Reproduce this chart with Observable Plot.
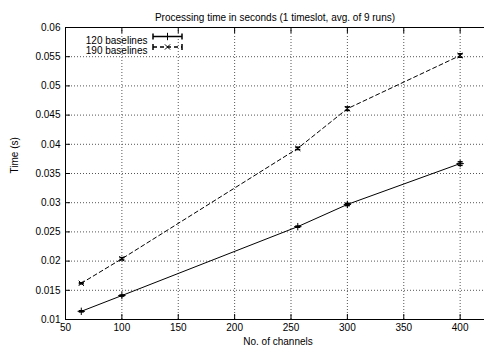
<!DOCTYPE html>
<html>
<head>
<meta charset="utf-8">
<script src="https://cdn.jsdelivr.net/npm/d3@7"></script>
<script src="https://cdn.jsdelivr.net/npm/@observablehq/plot@0.6"></script>
<style>
  html, body { margin: 0; padding: 0; background: #fff; overflow: hidden; }
</style>
</head>
<body>
<div id="chart"></div>
<script>
// Processing time per number of channels, mean of 9 runs with spread
const channels = [64, 100, 256, 300, 400];
const time120 = [0.0114, 0.0141, 0.0259, 0.0297, 0.0367];
const err120 = [0.0001, 0.0001, 0.0001, 0.0002, 0.0003];
const time190 = [0.0162, 0.0204, 0.0393, 0.0461, 0.0552];
const err190 = [0.0001, 0.0002, 0.0002, 0.0003, 0.0003];
const seriesNames = ["120 baselines", "190 baselines"];
const xTicks = [50, 100, 150, 200, 250, 300, 350, 400];
const yTicks = [0.01, 0.015, 0.02, 0.025, 0.03, 0.035, 0.04, 0.045, 0.05, 0.055, 0.06];
const titleText = "Processing time in seconds (1 timeslot, avg. of 9 runs)";
const xLabel = "No. of channels";
const yLabel = "Time (s)";

const rows120 = channels.map((c, i) => ({ch: c, t: time120[i], e: err120[i]}));
const rows190 = channels.map((c, i) => ({ch: c, t: time190[i], e: err190[i]}));

// horizontal cap at the end of an error bar
const capSymbol = {draw(ctx) { ctx.moveTo(-2.5, 0); ctx.lineTo(2.5, 0); }};
// key sample: a horizontal stroke, and its end caps
const keyLine = {draw(ctx) { ctx.moveTo(-14.5, 0); ctx.lineTo(14.5, 0); }};
const keyCaps = {draw(ctx) {
  ctx.moveTo(-14.5, -3); ctx.lineTo(-14.5, 3);
  ctx.moveTo(14.5, -3); ctx.lineTo(14.5, 3);
}};

const dotted = "1,2";
const ink = "#000";
const gridInk = "#555";

function series(rows, symbol, dash) {
  return [
    Plot.line(rows, {x: "ch", y: "t", stroke: ink, strokeWidth: 1, strokeDasharray: dash}),
    Plot.ruleX(rows, {x: "ch", y1: d => d.t - d.e, y2: d => d.t + d.e, stroke: ink}),
    Plot.dot(rows, {x: "ch", y: d => d.t - d.e, symbol: capSymbol, stroke: ink, fill: "none"}),
    Plot.dot(rows, {x: "ch", y: d => d.t + d.e, symbol: capSymbol, stroke: ink, fill: "none"}),
    Plot.dot(rows, {x: "ch", y: "t", symbol, r: 2.5, stroke: ink, strokeWidth: 1, fill: "none"})
  ];
}

function keyEntry(name, symbol, dash, dy) {
  return [
    Plot.text([name], {frameAnchor: "top-left", dx: 82, dy, text: d => d, textAnchor: "end", fill: ink}),
    Plot.dot([name], {frameAnchor: "top-left", dx: 102, dy, symbol: keyLine, stroke: ink, fill: "none", strokeDasharray: dash}),
    Plot.dot([name], {frameAnchor: "top-left", dx: 102, dy, symbol: keyCaps, stroke: ink, fill: "none"}),
    Plot.dot([name], {frameAnchor: "top-left", dx: 102, dy, symbol, r: 2.5, stroke: ink, strokeWidth: 1, fill: "none"})
  ];
}

const chart = Plot.plot({
  width: 484,
  height: 351,
  marginLeft: 65,
  marginRight: 0,
  marginTop: 27,
  marginBottom: 32,
  style: {fontFamily: "'Liberation Sans', Arial, sans-serif", fontSize: "10px", color: "#000", background: "#fff"},
  x: {domain: [50, 421.6]},
  y: {domain: [0.01, 0.06]},
  marks: [
    // dotted grid
    Plot.ruleX(xTicks.slice(1), {stroke: gridInk, strokeDasharray: dotted}),
    Plot.ruleY(yTicks.slice(1, -1), {stroke: gridInk, strokeDasharray: dotted}),
    // border
    Plot.ruleX([50], {stroke: ink}),
    Plot.ruleY([0.01, 0.06], {stroke: ink}),
    // axes with inward ticks
    Plot.axisX(xTicks, {anchor: "bottom", label: null, tickSize: -5, tickPadding: 9, fill: ink, stroke: ink}),
    Plot.axisX(xTicks, {anchor: "top", label: null, tickSize: -5, tickFormat: () => "", stroke: ink}),
    Plot.axisY(yTicks, {anchor: "left", label: null, tickSize: -5, tickPadding: 10, fill: ink, stroke: ink, tickFormat: d => String(+d.toFixed(3))}),
    // titles
    Plot.text([titleText], {frameAnchor: "top", dy: -14, text: d => d, fill: ink}),
    Plot.text([xLabel], {frameAnchor: "bottom", dx: 3, dy: 25, text: d => d, fill: ink}),
    Plot.text([yLabel], {frameAnchor: "left", dx: -51, rotate: -90, text: d => d, fill: ink}),
    // data
    ...series(rows120, "plus", null),
    ...series(rows190, "times", "4,3"),
    // key
    ...keyEntry(seriesNames[0], "plus", null, 9),
    ...keyEntry(seriesNames[1], "times", "4,3", 19.5)
  ]
});

document.getElementById("chart").append(chart);
</script>
</body>
</html>
